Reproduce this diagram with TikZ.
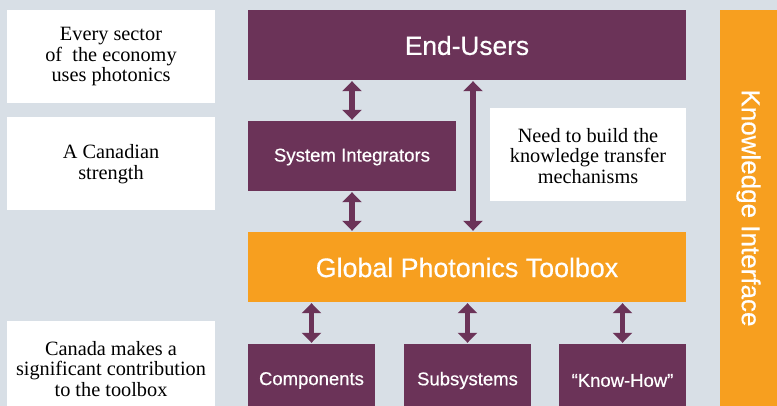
\documentclass[tikz,border=0pt]{standalone}
\usepackage{fontspec}
\setmainfont{Liberation Serif}
\newfontfamily\serf{Liberation Serif}
\newfontfamily\sansf[FakeBold=0.5]{Liberation Sans}
\usetikzlibrary{arrows.meta}
\definecolor{bgc}{HTML}{D8DFE6}
\definecolor{plum}{HTML}{6B3358}
\definecolor{orng}{HTML}{F79F1F}
\tikzset{
  pbox/.style={fill=plum, draw=none},
  obox/.style={fill=orng, draw=none},
  wbox/.style={fill=white, draw=none},
  wtext/.style={align=center, font=\serf\fontsize{20.3}{20.5}\selectfont, text=black, inner sep=0pt},
  lbl/.style={text=white, inner sep=0pt},
  dbl/.style={draw=plum, line width=5.5pt, {Triangle[width=19pt,length=10pt]}-{Triangle[width=19pt,length=10pt]}, shorten <=1pt, shorten >=1pt},
}
\begin{document}
\begin{tikzpicture}[x=1pt,y=-1pt]
\useasboundingbox (0,0) rectangle (777,406);
\clip (0,0) rectangle (777,406);
\fill[bgc] (0,0) rectangle (777,406);
% white boxes
\path[wbox] (7,10) rectangle (215,103);
\path[wbox] (7,117) rectangle (215,210);
\path[wbox] (7,321) rectangle (215,420);
\path[wbox] (490,108) rectangle (686,201);
\node[wtext] (t1) at (111,57) {Every sector\\of \ the economy\\uses photonics};
\node[wtext] (t2) at (111,164) {A Canadian\\strength};
\node[wtext] (t3) at (111,369) {Canada makes a\\significant contribution\\to the toolbox};
\node[wtext] (t4) at (588,156) {Need to build the\\knowledge transfer\\mechanisms};
% purple and orange boxes
\path[pbox] (248,10) rectangle (686,80);
\node[lbl, font=\sansf\fontsize{26.3}{26.3}\selectfont] (eul) at (467,45.5) {End-Users};
\node[inner sep=0pt, minimum width=438pt, minimum height=70pt] (eu) at (467,45) {};
\path[pbox] (248,121) rectangle (456,191);
\node[lbl, font=\sansf\fontsize{18.6}{18.6}\selectfont] (sil) at (352,157) {System Integrators};
\node[inner sep=0pt, minimum width=208pt, minimum height=70pt] (si) at (352,156) {};
\path[obox] (248,232) rectangle (686,302);
\node[lbl, font=\sansf\fontsize{26.8}{26.8}\selectfont] (gptl) at (467,267.5) {Global Photonics Toolbox};
\node[inner sep=0pt, minimum width=438pt, minimum height=70pt] (gpt) at (467,267) {};
\path[pbox] (248,344) rectangle (375,420);
\path[pbox] (404,344) rectangle (531,420);
\path[pbox] (559,344) rectangle (686,420);
\node[inner sep=0pt, minimum width=127pt, minimum height=76pt] (comp) at (311.5,382) {};
\node[inner sep=0pt, minimum width=127pt, minimum height=76pt] (subs) at (467.5,382) {};
\node[inner sep=0pt, minimum width=127pt, minimum height=76pt] (know) at (622.5,382) {};
\node[lbl, font=\sansf\fontsize{18.5}{18.5}\selectfont] at (311.5,380.5) {Components};
\node[lbl, font=\sansf\fontsize{18.5}{18.5}\selectfont] at (467.5,380.5) {Subsystems};
\node[lbl, font=\sansf\fontsize{18.5}{18.5}\selectfont] at (622.5,380.5) {“Know-How”};
% knowledge interface bar
\path[obox] (720,10) rectangle (777,420);
\node[lbl, rotate=-90, font=\sansf\fontsize{26}{26}\selectfont] (ki) at (748.5,208) {Knowledge Interface};
% arrows
\coordinate (la) at (473,0);
\draw[dbl] (eu.south -| si.north) -- (si.north);
\draw[dbl] (si.south) -- (si.south |- gpt.north);
\draw[dbl] (la |- eu.south) -- (la |- gpt.north);
\draw[dbl] (gpt.south -| comp.north) -- (comp.north);
\draw[dbl] (gpt.south -| subs.north) -- (subs.north);
\draw[dbl] (gpt.south -| know.north) -- (know.north);
\end{tikzpicture}
\end{document}
